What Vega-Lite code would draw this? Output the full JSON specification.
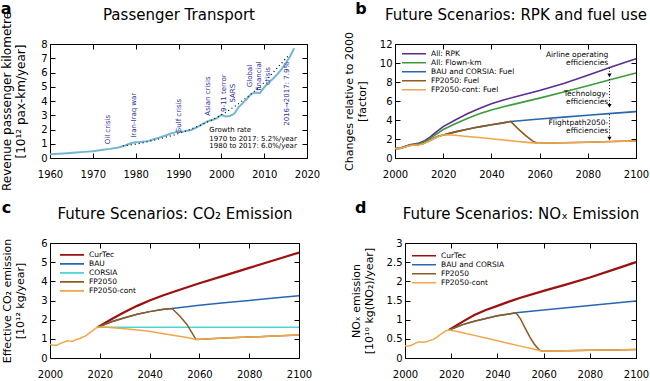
{
  "$schema": "https://vega.github.io/schema/vega-lite/v6.json",
  "background": "white",
  "padding": {"left": 0, "top": 0, "right": 0, "bottom": 0},
  "config": {
    "font": "DejaVu Sans",
    "view": {"stroke": "#000", "strokeWidth": 1},
    "axis": {"grid": false, "domain": false, "tickSize": -5, "tickColor": "#000", "labelColor": "#000", "labelFontSize": 10, "labelFlush": false, "labelOverlap": false, "titleFontWeight": "normal", "titleColor": "#000", "titleFontSize": 11},
    "axisX": {"labelPadding": 16},
    "axisY": {"labelPadding": 8, "titlePadding": 15},
    "title": {"fontWeight": "bold", "fontSize": 16, "anchor": "start", "frame": "bounds", "color": "#000"},
    "legend": {"title": null, "labelFontSize": 7.5, "symbolType": "stroke", "symbolSize": 576, "symbolStrokeWidth": 1.6, "labelAlign": "left", "labelOffset": 4, "clipHeight": 8.6, "rowPadding": 0, "padding": 0, "orient": "none"}
  },
  "resolve": {"scale": {"color": "independent"}, "legend": {"color": "independent"}},
  "datasets": {
    "a_hist": [
      {"year": 1960, "v": 0.27}, {"year": 1962, "v": 0.3}, {"year": 1964, "v": 0.34}, {"year": 1966, "v": 0.38}, {"year": 1968, "v": 0.43}, {"year": 1970, "v": 0.48}, {"year": 1972, "v": 0.56}, {"year": 1974, "v": 0.64}, {"year": 1976, "v": 0.74}, {"year": 1977, "v": 0.82}, {"year": 1978, "v": 0.93}, {"year": 1979, "v": 1.05}, {"year": 1980, "v": 1.1}, {"year": 1981, "v": 1.12}, {"year": 1982, "v": 1.15}, {"year": 1983, "v": 1.2}, {"year": 1984, "v": 1.3}, {"year": 1985, "v": 1.38}, {"year": 1986, "v": 1.47}, {"year": 1987, "v": 1.58}, {"year": 1988, "v": 1.7}, {"year": 1989, "v": 1.78}, {"year": 1990, "v": 1.9}, {"year": 1991, "v": 1.85}, {"year": 1992, "v": 1.92}, {"year": 1993, "v": 1.97}, {"year": 1994, "v": 2.12}, {"year": 1995, "v": 2.27}, {"year": 1996, "v": 2.45}, {"year": 1997, "v": 2.6}, {"year": 1998, "v": 2.68}, {"year": 1999, "v": 2.8}, {"year": 2000, "v": 3.02}, {"year": 2001, "v": 2.92}, {"year": 2002, "v": 2.95}, {"year": 2003, "v": 3.1}, {"year": 2004, "v": 3.55}, {"year": 2005, "v": 3.85}, {"year": 2006, "v": 4.15}, {"year": 2007, "v": 4.5}, {"year": 2008, "v": 4.6}, {"year": 2009, "v": 4.55}, {"year": 2010, "v": 4.95}, {"year": 2011, "v": 5.3}, {"year": 2012, "v": 5.55}, {"year": 2013, "v": 5.85}, {"year": 2014, "v": 6.2}, {"year": 2015, "v": 6.65}, {"year": 2016, "v": 7.1}, {"year": 2017, "v": 7.7}
    ],
    "a_fit": [
      {"year": 1977, "v": 0.85}, {"year": 1980, "v": 0.97}, {"year": 1983, "v": 1.15}, {"year": 1986, "v": 1.37}, {"year": 1989, "v": 1.62}, {"year": 1992, "v": 1.92}, {"year": 1995, "v": 2.28}, {"year": 1998, "v": 2.7}, {"year": 2001, "v": 3.2}, {"year": 2004, "v": 3.8}, {"year": 2007, "v": 4.5}, {"year": 2010, "v": 5.3}, {"year": 2013, "v": 6.3}, {"year": 2016, "v": 7.3}
    ],
    "a_ann": [
      {"year": 1973.6, "v": 2.0, "label": "Oil crisis"},
      {"year": 1979.7, "v": 3.0, "label": "Iran-Iraq war"},
      {"year": 1990.2, "v": 2.95, "label": "Gulf crisis"},
      {"year": 1997.0, "v": 4.35, "label": "Asian crisis"},
      {"year": 2000.7, "v": 4.55, "label": "9-11 terror\nSARS"},
      {"year": 2006.7, "v": 5.75, "label": "Global\nfinancial\ncrisis"},
      {"year": 2015.3, "v": 4.5, "label": "2016→2017: 7.9%"}
    ],
    "a_growth": [
      {"year": 1997.2, "v": 1.94, "label": "Growth rate"},
      {"year": 1997.2, "v": 1.36, "label": "1970 to 2017: 5.2%/year"},
      {"year": 1997.2, "v": 0.82, "label": "1980 to 2017: 6.0%/year"}
    ],
    "b_lines": [
      {"series": "All: RPK", "year": 2000, "v": 1.0}, {"series": "All: RPK", "year": 2002, "v": 1.02}, {"series": "All: RPK", "year": 2004, "v": 1.2}, {"series": "All: RPK", "year": 2006, "v": 1.38}, {"series": "All: RPK", "year": 2008, "v": 1.48}, {"series": "All: RPK", "year": 2010, "v": 1.58}, {"series": "All: RPK", "year": 2012, "v": 1.78}, {"series": "All: RPK", "year": 2014, "v": 2.1}, {"series": "All: RPK", "year": 2016, "v": 2.5}, {"series": "All: RPK", "year": 2018, "v": 2.9}, {"series": "All: RPK", "year": 2020, "v": 3.3}, {"series": "All: RPK", "year": 2025, "v": 4.0}, {"series": "All: RPK", "year": 2030, "v": 4.65}, {"series": "All: RPK", "year": 2035, "v": 5.2}, {"series": "All: RPK", "year": 2040, "v": 5.7}, {"series": "All: RPK", "year": 2045, "v": 6.1}, {"series": "All: RPK", "year": 2050, "v": 6.45}, {"series": "All: RPK", "year": 2060, "v": 7.1}, {"series": "All: RPK", "year": 2070, "v": 7.85}, {"series": "All: RPK", "year": 2080, "v": 8.7}, {"series": "All: RPK", "year": 2090, "v": 9.6}, {"series": "All: RPK", "year": 2100, "v": 10.45},
      {"series": "All: Flown-km", "year": 2000, "v": 1.0}, {"series": "All: Flown-km", "year": 2002, "v": 1.02}, {"series": "All: Flown-km", "year": 2004, "v": 1.18}, {"series": "All: Flown-km", "year": 2006, "v": 1.35}, {"series": "All: Flown-km", "year": 2008, "v": 1.42}, {"series": "All: Flown-km", "year": 2010, "v": 1.5}, {"series": "All: Flown-km", "year": 2012, "v": 1.68}, {"series": "All: Flown-km", "year": 2014, "v": 1.95}, {"series": "All: Flown-km", "year": 2016, "v": 2.3}, {"series": "All: Flown-km", "year": 2018, "v": 2.65}, {"series": "All: Flown-km", "year": 2020, "v": 3.0}, {"series": "All: Flown-km", "year": 2025, "v": 3.6}, {"series": "All: Flown-km", "year": 2030, "v": 4.15}, {"series": "All: Flown-km", "year": 2035, "v": 4.65}, {"series": "All: Flown-km", "year": 2040, "v": 5.05}, {"series": "All: Flown-km", "year": 2045, "v": 5.4}, {"series": "All: Flown-km", "year": 2050, "v": 5.7}, {"series": "All: Flown-km", "year": 2060, "v": 6.3}, {"series": "All: Flown-km", "year": 2070, "v": 6.95}, {"series": "All: Flown-km", "year": 2080, "v": 7.6}, {"series": "All: Flown-km", "year": 2090, "v": 8.3}, {"series": "All: Flown-km", "year": 2100, "v": 8.95},
      {"series": "BAU and CORSIA: Fuel", "year": 2000, "v": 1.0}, {"series": "BAU and CORSIA: Fuel", "year": 2002, "v": 1.0}, {"series": "BAU and CORSIA: Fuel", "year": 2004, "v": 1.15}, {"series": "BAU and CORSIA: Fuel", "year": 2006, "v": 1.32}, {"series": "BAU and CORSIA: Fuel", "year": 2008, "v": 1.38}, {"series": "BAU and CORSIA: Fuel", "year": 2010, "v": 1.42}, {"series": "BAU and CORSIA: Fuel", "year": 2012, "v": 1.55}, {"series": "BAU and CORSIA: Fuel", "year": 2014, "v": 1.78}, {"series": "BAU and CORSIA: Fuel", "year": 2016, "v": 2.05}, {"series": "BAU and CORSIA: Fuel", "year": 2018, "v": 2.28}, {"series": "BAU and CORSIA: Fuel", "year": 2020, "v": 2.42}, {"series": "BAU and CORSIA: Fuel", "year": 2025, "v": 2.75}, {"series": "BAU and CORSIA: Fuel", "year": 2030, "v": 3.02}, {"series": "BAU and CORSIA: Fuel", "year": 2035, "v": 3.28}, {"series": "BAU and CORSIA: Fuel", "year": 2040, "v": 3.5}, {"series": "BAU and CORSIA: Fuel", "year": 2045, "v": 3.7}, {"series": "BAU and CORSIA: Fuel", "year": 2048, "v": 3.85}, {"series": "BAU and CORSIA: Fuel", "year": 2060, "v": 4.1}, {"series": "BAU and CORSIA: Fuel", "year": 2070, "v": 4.3}, {"series": "BAU and CORSIA: Fuel", "year": 2080, "v": 4.5}, {"series": "BAU and CORSIA: Fuel", "year": 2090, "v": 4.7}, {"series": "BAU and CORSIA: Fuel", "year": 2100, "v": 4.88},
      {"series": "FP2050: Fuel", "year": 2000, "v": 1.0}, {"series": "FP2050: Fuel", "year": 2002, "v": 1.0}, {"series": "FP2050: Fuel", "year": 2004, "v": 1.15}, {"series": "FP2050: Fuel", "year": 2006, "v": 1.32}, {"series": "FP2050: Fuel", "year": 2008, "v": 1.38}, {"series": "FP2050: Fuel", "year": 2010, "v": 1.42}, {"series": "FP2050: Fuel", "year": 2012, "v": 1.55}, {"series": "FP2050: Fuel", "year": 2014, "v": 1.78}, {"series": "FP2050: Fuel", "year": 2016, "v": 2.05}, {"series": "FP2050: Fuel", "year": 2018, "v": 2.28}, {"series": "FP2050: Fuel", "year": 2020, "v": 2.42}, {"series": "FP2050: Fuel", "year": 2025, "v": 2.75}, {"series": "FP2050: Fuel", "year": 2030, "v": 3.02}, {"series": "FP2050: Fuel", "year": 2035, "v": 3.28}, {"series": "FP2050: Fuel", "year": 2040, "v": 3.5}, {"series": "FP2050: Fuel", "year": 2045, "v": 3.7}, {"series": "FP2050: Fuel", "year": 2048, "v": 3.85}, {"series": "FP2050: Fuel", "year": 2051, "v": 3.1}, {"series": "FP2050: Fuel", "year": 2054, "v": 2.4}, {"series": "FP2050: Fuel", "year": 2057, "v": 1.8}, {"series": "FP2050: Fuel", "year": 2059, "v": 1.55}, {"series": "FP2050: Fuel", "year": 2070, "v": 1.6}, {"series": "FP2050: Fuel", "year": 2080, "v": 1.66}, {"series": "FP2050: Fuel", "year": 2090, "v": 1.73}, {"series": "FP2050: Fuel", "year": 2100, "v": 1.8},
      {"series": "FP2050-cont: Fuel", "year": 2000, "v": 1.0}, {"series": "FP2050-cont: Fuel", "year": 2002, "v": 1.0}, {"series": "FP2050-cont: Fuel", "year": 2004, "v": 1.15}, {"series": "FP2050-cont: Fuel", "year": 2006, "v": 1.3}, {"series": "FP2050-cont: Fuel", "year": 2008, "v": 1.36}, {"series": "FP2050-cont: Fuel", "year": 2010, "v": 1.4}, {"series": "FP2050-cont: Fuel", "year": 2012, "v": 1.53}, {"series": "FP2050-cont: Fuel", "year": 2014, "v": 1.76}, {"series": "FP2050-cont: Fuel", "year": 2016, "v": 2.03}, {"series": "FP2050-cont: Fuel", "year": 2018, "v": 2.27}, {"series": "FP2050-cont: Fuel", "year": 2020, "v": 2.42}, {"series": "FP2050-cont: Fuel", "year": 2022, "v": 2.45}, {"series": "FP2050-cont: Fuel", "year": 2025, "v": 2.4}, {"series": "FP2050-cont: Fuel", "year": 2030, "v": 2.27}, {"series": "FP2050-cont: Fuel", "year": 2035, "v": 2.15}, {"series": "FP2050-cont: Fuel", "year": 2040, "v": 2.02}, {"series": "FP2050-cont: Fuel", "year": 2045, "v": 1.9}, {"series": "FP2050-cont: Fuel", "year": 2050, "v": 1.77}, {"series": "FP2050-cont: Fuel", "year": 2055, "v": 1.64}, {"series": "FP2050-cont: Fuel", "year": 2059, "v": 1.55}, {"series": "FP2050-cont: Fuel", "year": 2070, "v": 1.6}, {"series": "FP2050-cont: Fuel", "year": 2080, "v": 1.66}, {"series": "FP2050-cont: Fuel", "year": 2090, "v": 1.73}, {"series": "FP2050-cont: Fuel", "year": 2100, "v": 1.8}
    ],
    "b_ann": [
      {"year": 2088.5, "v": 10.8, "label": "Airline operating"},
      {"year": 2088.5, "v": 9.95, "label": "efficiencies"},
      {"year": 2088.5, "v": 6.7, "label": "Technology-"},
      {"year": 2088.5, "v": 5.85, "label": "efficiencies"},
      {"year": 2088.5, "v": 3.7, "label": "Flightpath2050-"},
      {"year": 2088.5, "v": 2.85, "label": "efficiencies"}
    ],
    "b_arrows": [
      {"year": 2089, "y1": 9.5, "y2": 8.7},
      {"year": 2089, "y1": 8.3, "y2": 5.5},
      {"year": 2089, "y1": 4.6, "y2": 2.05}
    ],
    "c_lines": [
      {"series": "CurTec", "year": 2019, "v": 1.6}, {"series": "CurTec", "year": 2025, "v": 2.05}, {"series": "CurTec", "year": 2030, "v": 2.4}, {"series": "CurTec", "year": 2035, "v": 2.72}, {"series": "CurTec", "year": 2040, "v": 3.0}, {"series": "CurTec", "year": 2045, "v": 3.25}, {"series": "CurTec", "year": 2050, "v": 3.47}, {"series": "CurTec", "year": 2060, "v": 3.9}, {"series": "CurTec", "year": 2070, "v": 4.3}, {"series": "CurTec", "year": 2080, "v": 4.7}, {"series": "CurTec", "year": 2090, "v": 5.1}, {"series": "CurTec", "year": 2100, "v": 5.5},
      {"series": "BAU", "year": 2019, "v": 1.6}, {"series": "BAU", "year": 2025, "v": 1.9}, {"series": "BAU", "year": 2030, "v": 2.1}, {"series": "BAU", "year": 2035, "v": 2.28}, {"series": "BAU", "year": 2040, "v": 2.42}, {"series": "BAU", "year": 2045, "v": 2.53}, {"series": "BAU", "year": 2049, "v": 2.58}, {"series": "BAU", "year": 2060, "v": 2.75}, {"series": "BAU", "year": 2070, "v": 2.88}, {"series": "BAU", "year": 2080, "v": 3.0}, {"series": "BAU", "year": 2090, "v": 3.13}, {"series": "BAU", "year": 2100, "v": 3.25},
      {"series": "CORSIA", "year": 2019, "v": 1.6}, {"series": "CORSIA", "year": 2100, "v": 1.6},
      {"series": "FP2050", "year": 2019, "v": 1.6}, {"series": "FP2050", "year": 2025, "v": 1.9}, {"series": "FP2050", "year": 2030, "v": 2.1}, {"series": "FP2050", "year": 2035, "v": 2.28}, {"series": "FP2050", "year": 2040, "v": 2.42}, {"series": "FP2050", "year": 2045, "v": 2.53}, {"series": "FP2050", "year": 2049, "v": 2.58}, {"series": "FP2050", "year": 2052, "v": 2.2}, {"series": "FP2050", "year": 2055, "v": 1.75}, {"series": "FP2050", "year": 2058.6, "v": 0.97}, {"series": "FP2050", "year": 2070, "v": 1.04}, {"series": "FP2050", "year": 2080, "v": 1.09}, {"series": "FP2050", "year": 2090, "v": 1.15}, {"series": "FP2050", "year": 2100, "v": 1.2},
      {"series": "FP2050-cont", "year": 2000, "v": 0.7}, {"series": "FP2050-cont", "year": 2001, "v": 0.68}, {"series": "FP2050-cont", "year": 2002, "v": 0.65}, {"series": "FP2050-cont", "year": 2003, "v": 0.68}, {"series": "FP2050-cont", "year": 2004, "v": 0.75}, {"series": "FP2050-cont", "year": 2005, "v": 0.8}, {"series": "FP2050-cont", "year": 2006, "v": 0.85}, {"series": "FP2050-cont", "year": 2007, "v": 0.9}, {"series": "FP2050-cont", "year": 2008, "v": 0.88}, {"series": "FP2050-cont", "year": 2009, "v": 0.86}, {"series": "FP2050-cont", "year": 2010, "v": 0.93}, {"series": "FP2050-cont", "year": 2011, "v": 0.98}, {"series": "FP2050-cont", "year": 2012, "v": 1.02}, {"series": "FP2050-cont", "year": 2013, "v": 1.08}, {"series": "FP2050-cont", "year": 2014, "v": 1.13}, {"series": "FP2050-cont", "year": 2015, "v": 1.22}, {"series": "FP2050-cont", "year": 2016, "v": 1.32}, {"series": "FP2050-cont", "year": 2017, "v": 1.42}, {"series": "FP2050-cont", "year": 2018, "v": 1.52}, {"series": "FP2050-cont", "year": 2019, "v": 1.6}, {"series": "FP2050-cont", "year": 2022, "v": 1.62}, {"series": "FP2050-cont", "year": 2025, "v": 1.58}, {"series": "FP2050-cont", "year": 2030, "v": 1.52}, {"series": "FP2050-cont", "year": 2035, "v": 1.46}, {"series": "FP2050-cont", "year": 2040, "v": 1.39}, {"series": "FP2050-cont", "year": 2045, "v": 1.28}, {"series": "FP2050-cont", "year": 2050, "v": 1.17}, {"series": "FP2050-cont", "year": 2055, "v": 1.07}, {"series": "FP2050-cont", "year": 2058.6, "v": 0.97}, {"series": "FP2050-cont", "year": 2070, "v": 1.04}, {"series": "FP2050-cont", "year": 2080, "v": 1.09}, {"series": "FP2050-cont", "year": 2090, "v": 1.15}, {"series": "FP2050-cont", "year": 2100, "v": 1.2}
    ],
    "d_lines": [
      {"series": "CurTec", "year": 2019, "v": 0.73}, {"series": "CurTec", "year": 2025, "v": 0.95}, {"series": "CurTec", "year": 2030, "v": 1.12}, {"series": "CurTec", "year": 2035, "v": 1.25}, {"series": "CurTec", "year": 2040, "v": 1.36}, {"series": "CurTec", "year": 2045, "v": 1.47}, {"series": "CurTec", "year": 2050, "v": 1.57}, {"series": "CurTec", "year": 2060, "v": 1.75}, {"series": "CurTec", "year": 2070, "v": 1.92}, {"series": "CurTec", "year": 2080, "v": 2.1}, {"series": "CurTec", "year": 2090, "v": 2.3}, {"series": "CurTec", "year": 2100, "v": 2.5},
      {"series": "BAU and CORSIA", "year": 2019, "v": 0.73}, {"series": "BAU and CORSIA", "year": 2025, "v": 0.87}, {"series": "BAU and CORSIA", "year": 2030, "v": 0.96}, {"series": "BAU and CORSIA", "year": 2035, "v": 1.03}, {"series": "BAU and CORSIA", "year": 2040, "v": 1.1}, {"series": "BAU and CORSIA", "year": 2045, "v": 1.15}, {"series": "BAU and CORSIA", "year": 2048, "v": 1.18}, {"series": "BAU and CORSIA", "year": 2060, "v": 1.25}, {"series": "BAU and CORSIA", "year": 2070, "v": 1.31}, {"series": "BAU and CORSIA", "year": 2080, "v": 1.37}, {"series": "BAU and CORSIA", "year": 2090, "v": 1.43}, {"series": "BAU and CORSIA", "year": 2100, "v": 1.49},
      {"series": "FP2050", "year": 2019, "v": 0.73}, {"series": "FP2050", "year": 2025, "v": 0.87}, {"series": "FP2050", "year": 2030, "v": 0.96}, {"series": "FP2050", "year": 2035, "v": 1.03}, {"series": "FP2050", "year": 2040, "v": 1.1}, {"series": "FP2050", "year": 2045, "v": 1.15}, {"series": "FP2050", "year": 2048, "v": 1.18}, {"series": "FP2050", "year": 2050, "v": 1.02}, {"series": "FP2050", "year": 2052, "v": 0.78}, {"series": "FP2050", "year": 2054, "v": 0.55}, {"series": "FP2050", "year": 2056, "v": 0.36}, {"series": "FP2050", "year": 2058, "v": 0.22}, {"series": "FP2050", "year": 2059, "v": 0.18}, {"series": "FP2050", "year": 2070, "v": 0.19}, {"series": "FP2050", "year": 2080, "v": 0.2}, {"series": "FP2050", "year": 2090, "v": 0.21}, {"series": "FP2050", "year": 2100, "v": 0.22},
      {"series": "FP2050-cont", "year": 2000, "v": 0.32}, {"series": "FP2050-cont", "year": 2001, "v": 0.31}, {"series": "FP2050-cont", "year": 2002, "v": 0.32}, {"series": "FP2050-cont", "year": 2003, "v": 0.34}, {"series": "FP2050-cont", "year": 2004, "v": 0.37}, {"series": "FP2050-cont", "year": 2005, "v": 0.4}, {"series": "FP2050-cont", "year": 2006, "v": 0.42}, {"series": "FP2050-cont", "year": 2007, "v": 0.42}, {"series": "FP2050-cont", "year": 2008, "v": 0.41}, {"series": "FP2050-cont", "year": 2009, "v": 0.42}, {"series": "FP2050-cont", "year": 2010, "v": 0.44}, {"series": "FP2050-cont", "year": 2011, "v": 0.46}, {"series": "FP2050-cont", "year": 2012, "v": 0.48}, {"series": "FP2050-cont", "year": 2013, "v": 0.51}, {"series": "FP2050-cont", "year": 2014, "v": 0.55}, {"series": "FP2050-cont", "year": 2015, "v": 0.6}, {"series": "FP2050-cont", "year": 2016, "v": 0.64}, {"series": "FP2050-cont", "year": 2017, "v": 0.68}, {"series": "FP2050-cont", "year": 2018, "v": 0.72}, {"series": "FP2050-cont", "year": 2019, "v": 0.73}, {"series": "FP2050-cont", "year": 2022, "v": 0.7}, {"series": "FP2050-cont", "year": 2025, "v": 0.66}, {"series": "FP2050-cont", "year": 2030, "v": 0.59}, {"series": "FP2050-cont", "year": 2035, "v": 0.52}, {"series": "FP2050-cont", "year": 2040, "v": 0.45}, {"series": "FP2050-cont", "year": 2045, "v": 0.38}, {"series": "FP2050-cont", "year": 2050, "v": 0.31}, {"series": "FP2050-cont", "year": 2055, "v": 0.24}, {"series": "FP2050-cont", "year": 2059, "v": 0.18}, {"series": "FP2050-cont", "year": 2070, "v": 0.19}, {"series": "FP2050-cont", "year": 2080, "v": 0.2}, {"series": "FP2050-cont", "year": 2090, "v": 0.21}, {"series": "FP2050-cont", "year": 2100, "v": 0.22}
    ]
  },
  "vconcat": [
    {
      "hconcat": [
        {
          "width": 257, "height": 114,
          "title": {"text": "a", "offset": -9},
          "layer": [
            {
              "data": {"name": "a_hist"},
              "mark": {"type": "line", "color": "#72b6d3", "strokeWidth": 2},
              "encoding": {
                "x": {"field": "year", "type": "quantitative", "scale": {"domain": [1960, 2020], "nice": false, "zero": false}, "axis": {"values": [1960, 1970, 1980, 1990, 2000, 2010, 2020], "format": "d", "title": null}},
                "y": {"field": "v", "type": "quantitative", "scale": {"domain": [0, 8], "nice": false}, "axis": {"values": [0, 1, 2, 3, 4, 5, 6, 7, 8], "title": ["Revenue passenger kilometre", "[10¹² pax-km/year]"], "titleFontSize": 12, "titlePadding": 13}}
              }
            },
            {
              "data": {"name": "a_fit"},
              "mark": {"type": "line", "color": "#000", "strokeDash": [1, 3], "strokeWidth": 1.2},
              "encoding": {
                "x": {"field": "year", "type": "quantitative", "axis": {"orient": "top", "labels": false, "values": [1960, 1970, 1980, 1990, 2000, 2010, 2020], "title": "Passenger Transport", "titleFontSize": 15, "titlePadding": 21}},
                "y": {"field": "v", "type": "quantitative", "axis": {"orient": "right", "labels": false, "values": [0, 1, 2, 3, 4, 5, 6, 7, 8], "title": null}}
              }
            },
            {
              "data": {"name": "a_ann"},
              "mark": {"type": "text", "angle": 270, "align": "center", "baseline": "middle", "fontSize": 7, "color": "#2b2b9a", "lineBreak": "\n"},
              "encoding": {
                "x": {"field": "year", "type": "quantitative", "axis": null},
                "y": {"field": "v", "type": "quantitative", "axis": null},
                "text": {"field": "label"}
              }
            },
            {
              "data": {"name": "a_growth"},
              "mark": {"type": "text", "align": "left", "baseline": "middle", "fontSize": 7, "color": "#000"},
              "encoding": {
                "x": {"field": "year", "type": "quantitative", "axis": null},
                "y": {"field": "v", "type": "quantitative", "axis": null},
                "text": {"field": "label"}
              }
            }
          ],
          "resolve": {"axis": {"x": "independent", "y": "independent"}}
        },
        {
          "width": 241, "height": 114,
          "title": {"text": "b", "offset": -9, "dx": 12},
          "layer": [
            {
              "mark": {"type": "rule", "color": "#999", "strokeWidth": 1},
              "encoding": {"y": {"datum": 1, "type": "quantitative", "scale": {"domain": [0, 12], "nice": false}, "axis": {"values": [0, 2, 4, 6, 8, 10, 12], "title": ["Changes relative to 2000", "[factor]"], "titlePadding": 12}}}
            },
            {
              "data": {"name": "b_lines"},
              "mark": {"type": "line", "strokeWidth": 1.6},
              "encoding": {
                "x": {"field": "year", "type": "quantitative", "scale": {"domain": [2000, 2100], "nice": false, "zero": false}, "axis": {"values": [2000, 2020, 2040, 2060, 2080, 2100], "format": "d", "title": null}},
                "y": {"field": "v", "type": "quantitative", "axis": null},
                "color": {"field": "series", "type": "nominal", "scale": {"domain": ["All: RPK", "All: Flown-km", "BAU and CORSIA: Fuel", "FP2050: Fuel", "FP2050-cont: Fuel"], "range": ["#5b2d90", "#3a9c3a", "#2866b0", "#8f5a1e", "#f2a64a"]}, "legend": {"legendX": 6, "legendY": 5.3, "clipHeight": 8.75}},
                "strokeWidth": {"condition": {"test": "datum.series === 'All: RPK'", "value": 2.2}, "value": 1.5}
              }
            },
            {
              "data": {"name": "b_arrows"},
              "mark": {"type": "rule", "color": "#000", "strokeDash": [1, 2], "strokeWidth": 1},
              "encoding": {
                "x": {"field": "year", "type": "quantitative", "axis": {"orient": "top", "labels": false, "values": [2000, 2020, 2040, 2060, 2080, 2100], "title": "Future Scenarios: RPK and fuel use", "titleFontSize": 15, "titlePadding": 21}},
                "y": {"field": "y1", "type": "quantitative", "axis": {"orient": "right", "labels": false, "values": [0, 2, 4, 6, 8, 10, 12], "title": null}},
                "y2": {"field": "y2"}
              }
            },
            {
              "data": {"name": "b_arrows"},
              "mark": {"type": "point", "shape": "triangle-down", "filled": true, "color": "#000", "size": 18, "opacity": 1},
              "encoding": {
                "x": {"field": "year", "type": "quantitative", "axis": null},
                "y": {"field": "y2", "type": "quantitative", "axis": null}
              }
            },
            {
              "data": {"name": "b_ann"},
              "mark": {"type": "text", "align": "right", "baseline": "middle", "fontSize": 7.5, "color": "#000"},
              "encoding": {
                "x": {"field": "year", "type": "quantitative", "axis": null},
                "y": {"field": "v", "type": "quantitative", "axis": null},
                "text": {"field": "label"}
              }
            }
          ],
          "resolve": {"axis": {"x": "independent", "y": "independent"}}
        }
      ],
      "spacing": 88,
      "bounds": "flush",
      "resolve": {"scale": {"color": "independent"}, "legend": {"color": "independent"}}
    },
    {
      "hconcat": [
        {
          "width": 249, "height": 115,
          "title": {"text": "c", "offset": -9},
          "layer": [
            {
              "data": {"name": "c_lines"},
              "mark": {"type": "line"},
              "encoding": {
                "x": {"field": "year", "type": "quantitative", "scale": {"domain": [2000, 2100], "nice": false, "zero": false}, "axis": {"values": [2000, 2020, 2040, 2060, 2080, 2100], "format": "d", "title": null}},
                "y": {"field": "v", "type": "quantitative", "scale": {"domain": [0, 6], "nice": false}, "axis": {"values": [0, 1, 2, 3, 4, 5, 6], "title": ["Effective CO₂ emission", "[10¹² kg/year]"]}},
                "color": {"field": "series", "type": "nominal", "scale": {"domain": ["CurTec", "BAU", "CORSIA", "FP2050", "FP2050-cont"], "range": ["#9c1010", "#2866b0", "#4cd6d6", "#8f5a1e", "#f2a64a"]}, "legend": {"legendX": 9, "legendY": 7.6, "clipHeight": 8.5}},
                "strokeWidth": {"condition": {"test": "datum.series === 'CurTec'", "value": 2.2}, "value": 1.5}
              }
            },
            {
              "data": {"name": "c_lines"},
              "mark": {"type": "line", "opacity": 0},
              "encoding": {
                "x": {"field": "year", "type": "quantitative", "axis": {"orient": "top", "labels": false, "values": [2000, 2020, 2040, 2060, 2080, 2100], "title": "Future Scenarios: CO₂ Emission", "titleFontSize": 15, "titlePadding": 21}},
                "y": {"field": "v", "type": "quantitative", "axis": {"orient": "right", "labels": false, "values": [0, 1, 2, 3, 4, 5, 6], "title": null}}
              }
            }
          ],
          "resolve": {"axis": {"x": "independent", "y": "independent"}}
        },
        {
          "width": 231, "height": 115,
          "title": {"text": "d", "offset": -9, "dx": 5},
          "layer": [
            {
              "data": {"name": "d_lines"},
              "mark": {"type": "line"},
              "encoding": {
                "x": {"field": "year", "type": "quantitative", "scale": {"domain": [2000, 2100], "nice": false, "zero": false}, "axis": {"values": [2000, 2020, 2040, 2060, 2080, 2100], "format": "d", "title": null}},
                "y": {"field": "v", "type": "quantitative", "scale": {"domain": [0, 3], "nice": false}, "axis": {"values": [0, 0.5, 1, 1.5, 2, 2.5, 3], "format": "~g", "title": ["NOₓ emission", "[10¹⁰ kg(NO₂)/year]"], "titlePadding": 12}},
                "color": {"field": "series", "type": "nominal", "scale": {"domain": ["CurTec", "BAU and CORSIA", "FP2050", "FP2050-cont"], "range": ["#9c1010", "#2866b0", "#8f5a1e", "#f2a64a"]}, "legend": {"legendX": 6, "legendY": 8.5, "clipHeight": 8.4}},
                "strokeWidth": {"condition": {"test": "datum.series === 'CurTec'", "value": 2.2}, "value": 1.5}
              }
            },
            {
              "data": {"name": "d_lines"},
              "mark": {"type": "line", "opacity": 0},
              "encoding": {
                "x": {"field": "year", "type": "quantitative", "axis": {"orient": "top", "labels": false, "values": [2000, 2020, 2040, 2060, 2080, 2100], "title": "Future Scenarios: NOₓ Emission", "titleFontSize": 15, "titlePadding": 21}},
                "y": {"field": "v", "type": "quantitative", "axis": {"orient": "right", "labels": false, "values": [0, 0.5, 1, 1.5, 2, 2.5, 3], "title": null}}
              }
            }
          ],
          "resolve": {"axis": {"x": "independent", "y": "independent"}}
        }
      ],
      "spacing": 106,
      "bounds": "flush",
      "resolve": {"scale": {"color": "independent"}, "legend": {"color": "independent"}}
    }
  ],
  "spacing": 7
}
